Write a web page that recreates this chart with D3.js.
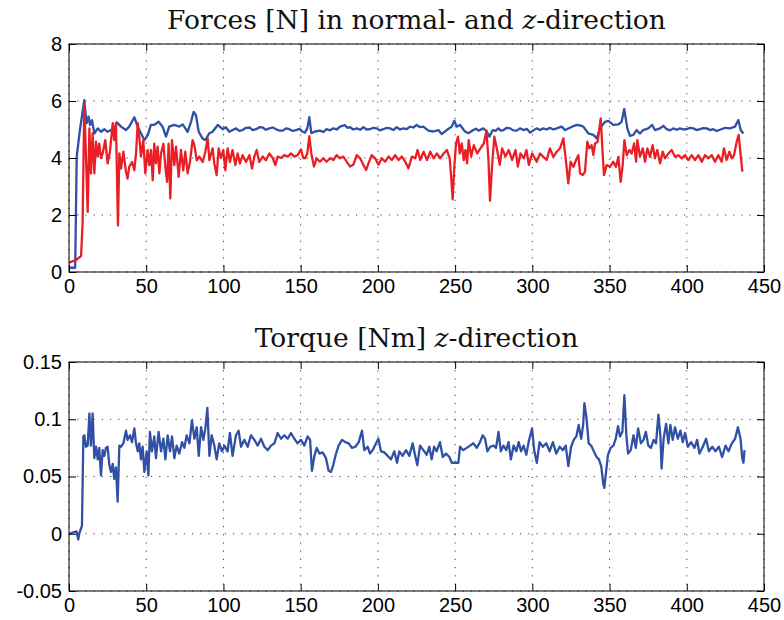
<!DOCTYPE html>
<meta charset="utf-8">
<style>
  body { margin: 0; background: #fff; }
  .tick text { font-family: "Liberation Sans", Arial, sans-serif; font-size: 20px; fill: #000; }
  .domain { display: none; }
  .tick line { stroke: #000; }
  .title { font-family: "DejaVu Serif", serif; font-size: 26.5px; fill: #111; }
</style>
<body>
<script src="https://d3js.org/d3.v7.min.js"></script>
<script>
  // normal force [N]  (time, value)
  var forceNormal = [[0,0.15],[4,0.15],[5,4.05],[7.1,5.0],[9.9,6.03],[11.4,5.22],[12.7,5.45],[13.6,5.16],[14.9,5.33],[16.4,4.86],
    [18.6,5.04],[20.7,4.92],[22.9,5.01],[25,4.92],[27.2,4.98],[28.7,4.87],[31,5.25],[33.7,5.1],[36.9,4.98],[39,5.1],
    [42.3,5.43],[44.5,5.1],[46.6,4.87],[48.8,4.63],[51,4.8],[53,5.16],[55.2,5.16],[58,5.27],[60.6,5.1],[62.8,4.75],
    [64.9,5.1],[68.2,5.16],[71.4,5.1],[73.6,5.18],[76.8,4.92],[79,5.27],[80.7,5.62],[82.2,5.5],[84,4.92],[86.5,4.68],
    [88.3,4.63],[90.9,4.87],[93,4.92],[96.3,5.16],[99.5,5.01],[101.5,5.08],[103.8,4.92],[106,4.98],[108.1,5.04],[110.3,4.95],
    [112.4,4.98],[114.6,5.06],[116.8,5.07],[119,4.98],[121.1,5.01],[123.3,5.08],[125.4,5.07],[127.5,4.99],[129.7,5.04],[131.9,5.07],
    [134.1,5.01],[136.2,4.96],[138.4,4.96],[140.5,5.04],[142.7,5.01],[144.8,4.95],[147,4.98],[149.2,5.02],[151.3,4.92],[152.8,4.89],
    [154.3,5.04],[155.6,5.43],[156.9,4.87],[159.3,4.93],[162.5,4.96],[164.6,4.91],[166.8,5.01],[169,4.97],[171.2,5.04],[173.3,5.0],
    [175.5,5.1],[178.7,5.15],[180.3,5.06],[182,5.08],[184.1,5.0],[186.3,5.04],[188.5,4.99],[190.6,5.08],[192.8,5.0],[194.9,5.01],
    [197,5.06],[199.2,5.04],[201.3,4.97],[203.5,5.01],[205.7,5.06],[207.9,5.04],[210,4.98],[212.2,5.08],[214.3,5.0],[216.5,5.04],
    [218.7,5.01],[220.8,5.1],[223,5.07],[225.1,5.16],[227.3,5.08],[229.4,5.1],[232.7,4.96],[235.9,4.93],[239.2,4.98],[241.3,4.84],
    [244.6,4.98],[247.8,5.1],[249.5,5.31],[251,5.1],[253.2,5.16],[256.4,4.93],[258.6,4.87],[261.8,4.98],[263.5,5.03],[265.1,4.96],
    [268.3,5.04],[270.5,4.93],[272.2,4.75],[274.4,4.98],[276.2,4.95],[278,5.04],[279.6,4.96],[281.3,4.98],[283.5,5.06],[285.6,5.04],
    [287.7,4.97],[289.9,4.96],[292,5.04],[294.3,4.98],[296.5,5.02],[298.6,4.89],[300.7,4.97],[302.8,5.04],[305,4.98],[307.1,5.04],
    [309.3,5.0],[311.4,5.06],[313.6,5.0],[315.8,5.04],[319,5.1],[321.2,4.98],[324.4,5.06],[326.6,5.12],[328.7,5.16],[331,5.14],
    [333,5.1],[336.3,4.86],[339.5,4.81],[341.7,4.69],[343.8,5.04],[347.1,5.27],[349.2,5.3],[352.4,5.16],[355.7,5.18],[357.8,5.27],
    [359.5,5.72],[361.5,5.04],[363.2,4.78],[365.4,4.81],[367.5,4.98],[369.7,4.86],[371.8,4.98],[375.1,5.04],[377.6,5.16],[379.4,4.98],
    [382.7,5.04],[384.8,5.13],[387,5.01],[389.2,4.97],[391.3,5.04],[393.4,4.99],[395.6,5.04],[397.8,5.0],[399.9,5.01],[402,5.06],
    [404.2,5.04],[406.4,4.98],[408.5,5.01],[410.7,5.05],[412.9,5.04],[415,4.98],[417.2,5.01],[419.4,4.95],[421.5,4.99],[424.8,5.06],
    [428,5.04],[431.2,5.1],[433.4,5.33],[434.9,4.98],[436.6,4.86]];

  // z-direction force [N]
  var forceZ = [[0,0.33],[4.5,0.42],[7.8,0.56],[8.8,1.7],[9.9,5.86],[11,4.05],[12.1,2.11],[13.2,5.04],[14.2,3.46],[15.3,4.87],
    [16.4,3.46],[17.5,4.57],[18.6,4.05],[19.6,4.5],[20.7,4.0],[21.8,4.16],[23.5,4.63],[25,3.81],[26.5,4.22],[28.3,5.22],
    [29.3,4.63],[30.4,5.22],[31.7,1.63],[32.6,4.16],[33.7,3.63],[35.2,4.22],[36.9,3.51],[37.9,3.28],[39,3.69],[40.8,3.86],
    [42.3,3.57],[43.4,4.16],[44.5,5.22],[45.5,4.75],[46.6,4.05],[48.1,4.63],[49.4,3.46],[50.9,4.28],[52,3.75],[53.1,4.28],
    [54.2,3.22],[55.2,4.5],[56.3,3.81],[57.4,4.4],[58.5,3.46],[59.6,4.16],[61.1,4.5],[62.4,3.69],[63.5,3.16],[64.5,4.5],
    [65.6,2.58],[66.7,4.63],[68.2,3.75],[69.3,4.4],[71,3.34],[72.5,4.28],[74,3.57],[75.3,4.22],[76.8,3.46],[78.3,3.86],
    [80,4.63],[81.2,4.45],[82.7,3.92],[84.4,4.05],[86.5,3.86],[88.3,4.22],[89.8,4.68],[90.9,3.92],[93,4.34],[94.1,3.81],
    [95.6,3.4],[96.9,4.34],[98.4,4.0],[99.9,4.28],[101.2,3.57],[102.7,4.34],[104.2,3.86],[105.9,4.28],[107.7,3.75],[109.2,4.16],
    [110.7,3.81],[112.4,4.1],[114.6,3.86],[116.8,4.1],[118.5,3.63],[120,4.05],[121.5,4.28],[123.2,3.86],[125.4,4.05],[127.5,3.92],
    [129.7,4.16],[131.9,4.0],[133.6,3.75],[135.1,4.05],[137.3,4.0],[139.4,4.1],[141.6,4.05],[143.7,4.16],[145.9,4.05],[148,4.1],
    [150.2,4.3],[151.7,4.0],[152.8,3.99],[154.3,4.16],[155.6,4.77],[156.9,4.16],[158.6,3.7],[160.3,3.99],[162.5,3.87],[164.6,3.99],
    [166.8,3.87],[169,3.99],[171.2,3.93],[173.3,4.1],[175.5,3.99],[177.6,4.05],[179.8,3.87],[182,3.7],[184.1,3.76],[186.3,4.1],
    [188.5,3.99],[190.6,3.76],[192.4,3.58],[193.9,3.81],[196,4.1],[198.2,3.99],[200.4,3.76],[202.5,3.99],[204.7,3.87],[206.9,4.05],
    [209,3.93],[211.2,4.1],[213.4,3.93],[215.5,4.05],[217.7,3.87],[219.8,3.64],[222,4.05],[224.2,3.99],[225.7,4.28],[227.4,3.93],
    [229.6,4.22],[231.8,3.93],[233.9,4.22],[236.1,3.99],[238.2,4.16],[240.4,3.99],[242.6,4.16],[244.7,4.28],[246.5,3.99],[247.5,3.29],
    [248.4,2.55],[249.5,3.7],[250.6,4.51],[251.9,4.75],[253,4.16],[254.3,4.51],[255.6,3.93],[256.7,4.28],[257.8,3.81],[258.8,4.63],
    [260.4,4.05],[262.1,4.45],[264.3,4.16],[266.4,4.34],[268.6,4.51],[270.3,4.96],[271.6,3.93],[272.6,2.5],[273.9,3.7],[275.4,4.75],
    [277.2,4.28],[278.9,3.76],[280.4,4.34],[282.6,4.05],[284.7,4.28],[286.9,3.93],[289.1,4.28],[290.6,3.7],[292.3,4.16],[294.5,3.99],
    [296.2,4.28],[297.7,3.76],[299.9,4.16],[302.8,3.87],[305,4.16],[307.1,4.04],[309.3,3.93],[311.4,4.34],[313.6,4.04],[315.8,4.22],
    [317.9,4.34],[320.1,4.69],[321.8,3.87],[323.3,3.11],[324.8,3.87],[326.6,3.69],[328.3,3.93],[329.8,4.1],[330.9,3.46],[332.6,3.4],
    [334.1,3.52],[335.6,4.57],[336.9,4.34],[338.4,4.45],[339.5,4.1],[340.6,4.51],[342.3,4.57],[344.3,5.39],[345.6,4.1],[346.4,3.4],
    [348.1,3.75],[350.3,3.69],[352.4,3.87],[354.2,3.69],[355.7,4.04],[357.2,3.16],[358.5,3.75],[359.6,4.63],[361.1,4.1],[362.8,4.28],
    [364.3,4.16],[365.9,4.51],[367.2,3.87],[368,4.63],[369.7,4.04],[371.5,4.34],[373,3.87],[374.5,4.34],[376.2,4.04],[377.9,4.45],
    [379.4,3.99],[380.9,4.28],[382.7,3.81],[384.4,4.22],[385.9,3.99],[388.1,4.16],[390.2,4.28],[392.4,4.04],[394.5,4.1],[396.7,3.99],
    [398.9,4.1],[401,3.93],[403.2,4.1],[405.3,3.93],[407.5,4.1],[409.7,3.87],[411.8,4.1],[414,3.99],[416.1,4.1],[418.3,3.87],
    [420.4,4.1],[422.6,3.87],[424.1,4.34],[425.8,3.93],[427.6,4.22],[429.1,3.99],[430.6,4.1],[432.3,4.57],[433.6,4.81],[434.9,4.1],
    [436,3.52]];

  // torque z-direction [Nm]
  var torqueZ = [[0,0],[4.9,0.002],[6,-0.005],[6.6,0],[8.4,0.007],[9.3,0.085],[9.9,0.086],[11,0.076],[12.1,0.077],[13.2,0.105],
    [14.2,0.077],[15.3,0.105],[16.4,0.066],[17.5,0.076],[18.6,0.065],[19.6,0.075],[20.7,0.051],[21.8,0.073],[22.9,0.068],[23.9,0.075],
    [25,0.076],[26.1,0.06],[27.2,0.054],[28.3,0.061],[29.3,0.048],[30.4,0.058],[31.5,0.028],[32.6,0.077],[33.7,0.076],[35.2,0.079],
    [36.9,0.09],[37.9,0.082],[39.5,0.086],[40.8,0.08],[42.3,0.092],[43.4,0.079],[44.5,0.072],[45.5,0.079],[46.6,0.065],[47.7,0.076],
    [48.8,0.054],[50.3,0.072],[51.4,0.051],[52.4,0.089],[53.7,0.072],[55.2,0.085],[56.3,0.066],[58,0.089],[59.6,0.072],[61.1,0.083],
    [62.4,0.065],[63.9,0.086],[65.4,0.072],[66.7,0.085],[68.2,0.066],[69.7,0.077],[71.4,0.07],[73.2,0.08],[74.7,0.075],[76.2,0.086],
    [78,0.079],[79.6,0.099],[81.2,0.083],[82.7,0.093],[84,0.068],[85.5,0.093],[87,0.082],[88.3,0.092],[89.6,0.11],[90.9,0.068],
    [92.4,0.086],[94.1,0.077],[95.6,0.065],[97.3,0.079],[99.1,0.072],[100.6,0.077],[102.7,0.072],[104.2,0.088],[105.9,0.068],[108.1,0.086],
    [109.8,0.09],[111.4,0.076],[113.5,0.082],[115.7,0.076],[117.8,0.086],[120,0.082],[122.2,0.077],[124.3,0.083],[126.5,0.076],[128.7,0.073],
    [130.8,0.077],[133,0.079],[135.1,0.088],[137.3,0.083],[139.4,0.086],[141.6,0.083],[143.7,0.088],[145.9,0.083],[148,0.079],[150.2,0.082],
    [152.4,0.077],[154.5,0.085],[156.1,0.082],[157.3,0.055],[158.9,0.068],[160.4,0.075],[162.1,0.07],[164.2,0.071],[166.4,0.066],[168.1,0.055],
    [169.6,0.054],[171.1,0.06],[172.9,0.07],[174.6,0.077],[176.8,0.082],[178.9,0.08],[181.1,0.079],[183.2,0.075],[185.4,0.076],[187.6,0.08],
    [189.7,0.09],[191.2,0.073],[193.4,0.076],[194.9,0.07],[196.6,0.073],[198.8,0.079],[200.3,0.083],[202,0.072],[204.2,0.071],[206.3,0.068],
    [208.5,0.065],[210.6,0.072],[212.4,0.062],[213.9,0.072],[216,0.068],[218.2,0.073],[220.4,0.068],[222.5,0.079],[224,0.069],[225.5,0.06],
    [227.3,0.077],[229.4,0.073],[231.6,0.069],[233.3,0.076],[234.8,0.065],[236.4,0.076],[238,0.072],[240.2,0.08],[242,0.067],[244.1,0.07],
    [246.3,0.067],[247.8,0.062],[250,0.062],[252.1,0.062],[253.2,0.076],[255.3,0.073],[257.5,0.075],[259.7,0.077],[261.8,0.079],[264,0.075],
    [266.1,0.08],[267.9,0.086],[269.4,0.083],[270.9,0.072],[272.7,0.076],[274.8,0.077],[276.5,0.075],[278.1,0.089],[279.6,0.072],[281.3,0.077],
    [283.1,0.073],[284.6,0.08],[286.1,0.065],[287.9,0.077],[289.6,0.072],[291.2,0.08],[292.7,0.072],[294.3,0.077],[296.1,0.069],[297.6,0.08],
    [299.8,0.092],[301.2,0.073],[302.9,0.062],[304.7,0.08],[306.8,0.076],[309,0.079],[311.2,0.072],[313.3,0.08],[315.5,0.07],[317.7,0.076],
    [319.8,0.073],[321.6,0.077],[323.3,0.059],[325.1,0.076],[326.8,0.082],[328.5,0.085],[330,0.095],[331.6,0.083],[332.9,0.095],[333.7,0.114],
    [335,0.102],[336.5,0.079],[338.1,0.077],[339.8,0.072],[341.6,0.067],[343.1,0.065],[344.6,0.059],[345.9,0.044],[346.6,0.04],[347.4,0.05],
    [349,0.069],[350.7,0.075],[352.5,0.077],[354,0.083],[355.5,0.094],[356.8,0.085],[358.3,0.089],[359.6,0.121],[360.9,0.086],[362,0.07],
    [363.7,0.073],[365.5,0.086],[367,0.075],[368.5,0.092],[370.3,0.079],[372,0.082],[373.5,0.089],[375.1,0.077],[376.8,0.075],[378.5,0.082],
    [380.1,0.079],[381.6,0.104],[382.9,0.086],[383.7,0.057],[385,0.083],[386.6,0.096],[388.1,0.079],[389.4,0.095],[390.9,0.082],[392.4,0.093],
    [394.2,0.083],[395.9,0.09],[397.4,0.08],[398.9,0.088],[400.7,0.076],[402.8,0.08],[405,0.075],[406.7,0.082],[408.2,0.07],[410.4,0.076],
    [412.5,0.083],[414.3,0.072],[416.5,0.076],[418.6,0.072],[420.8,0.076],[422.9,0.067],[425.1,0.077],[427,0.072],[429.2,0.079],[431.3,0.083],
    [433.1,0.093],[434.8,0.083],[435.9,0.066],[436.7,0.062],[437.4,0.073]];

  var xTicks = [0, 50, 100, 150, 200, 250, 300, 350, 400, 450];
  var forceTicks = [0, 2, 4, 6, 8];
  var torqueTicks = [-0.05, 0, 0.05, 0.1, 0.15];

  var svg = d3.select("body").append("svg")
      .attr("width", 784)
      .attr("height", 620);

  var left = 69, right = 764;

  function panel(top, bottom, yDomain, yTicks, title, series) {
    var width = right - left, height = bottom - top;
    var g = svg.append("g").attr("transform", "translate(" + left + "," + top + ")");

    var x = d3.scaleLinear().domain([0, 450]).range([0, width]);
    var y = d3.scaleLinear().domain(yDomain).range([height, 0]);

    // dotted grid
    g.selectAll(".gx").data(xTicks).enter().append("line")
        .attr("x1", function(d) { return x(d); }).attr("x2", function(d) { return x(d); })
        .attr("y1", 0).attr("y2", height)
        .attr("stroke", "#444").attr("stroke-width", 1).attr("stroke-dasharray", "1.2,7");
    g.selectAll(".gy").data(yTicks).enter().append("line")
        .attr("y1", function(d) { return y(d); }).attr("y2", function(d) { return y(d); })
        .attr("x1", 0).attr("x2", width)
        .attr("stroke", "#444").attr("stroke-width", 1).attr("stroke-dasharray", "1.2,7");

    var line = d3.line()
        .x(function(d) { return x(d[0]); })
        .y(function(d) { return y(d[1]); });

    series.forEach(function(s) {
      g.append("path")
          .datum(s.data)
          .attr("d", line)
          .attr("fill", "none")
          .attr("stroke", s.color)
          .attr("stroke-width", 2.3)
          .attr("stroke-linejoin", "round");
    });

    // axes, ticks pointing inward like matlab
    g.append("g").attr("transform", "translate(0," + height + ")")
        .call(d3.axisBottom(x).tickValues(xTicks).tickSize(-7).tickPadding(7));
    g.append("g")
        .call(d3.axisTop(x).tickValues(xTicks).tickSize(-7).tickFormat(""));
    g.append("g")
        .call(d3.axisLeft(y).tickValues(yTicks).tickSize(-7).tickPadding(7).tickFormat(function(d) { return String(d); }));
    g.append("g").attr("transform", "translate(" + width + ",0)")
        .call(d3.axisRight(y).tickValues(yTicks).tickSize(-7).tickFormat(""));

    g.append("rect")
        .attr("width", width).attr("height", height)
        .attr("fill", "none").attr("stroke", "#000").attr("stroke-width", 1);

    var t = g.append("text")
        .attr("class", "title")
        .attr("x", width / 2)
        .attr("y", -15)
        .attr("text-anchor", "middle");
    title.forEach(function(part) {
      t.append("tspan").text(part[0]).style("font-style", part[1] ? "italic" : "normal");
    });
  }

  panel(44, 272, [0, 8], forceTicks,
      [["Forces [N] in normal- and ", false], ["z", true], ["-direction", false]],
      [{data: forceNormal, color: "#3050a5"}, {data: forceZ, color: "#ea1f26"}]);

  panel(362, 591, [-0.05, 0.15], torqueTicks,
      [["Torque [Nm] ", false], ["z", true], ["-direction", false]],
      [{data: torqueZ, color: "#3050a5"}]);
</script>
</body>
</html>
